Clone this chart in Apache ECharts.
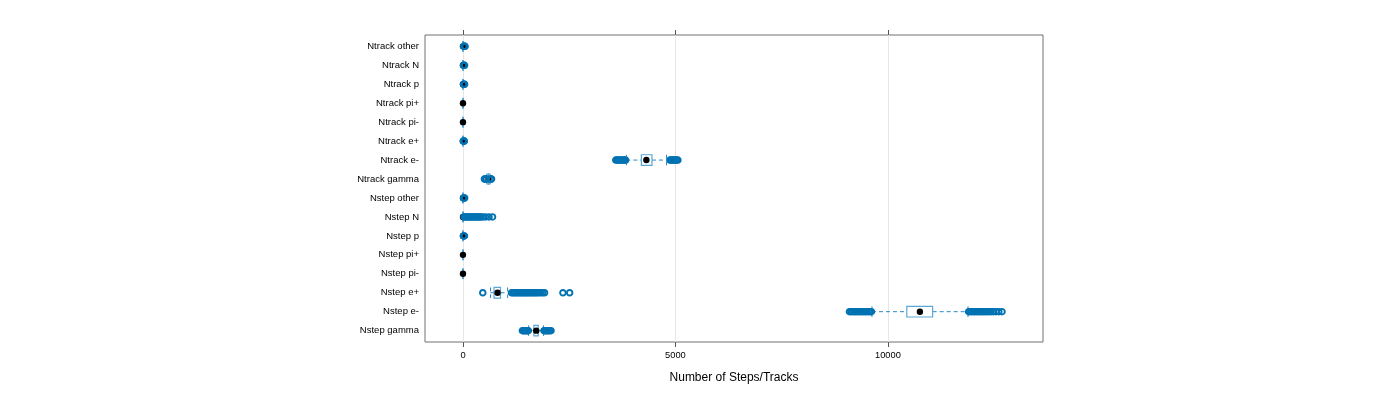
<!DOCTYPE html>
<html>
<head>
<meta charset="utf-8">
<script src="https://cdn.jsdelivr.net/npm/echarts@6/dist/echarts.min.js"></script>
<style>
html,body{margin:0;padding:0;background:#fff;}
#chart{width:1400px;height:400px;}
</style>
</head>
<body>
<div id="chart"></div>
<script>
// Categories from bottom to top
const categories = ['Nstep gamma','Nstep e-','Nstep e+','Nstep pi-','Nstep pi+','Nstep p','Nstep N','Nstep other',
  'Ntrack gamma','Ntrack e-','Ntrack e+','Ntrack pi-','Ntrack pi+','Ntrack p','Ntrack N','Ntrack other'];

// Box statistics (per category, same order)
const lowWhisker  = [1545,  9625,  648, 0, 0, 0, 0, 0, 560, 3845, 0, 0, 0, 0, 0, 0];
const lowerQuart  = [1668, 10445,  730, 0, 0, 0, 0, 0, 588, 4198, 0, 0, 0, 0, 0, 0];
const medians     = [1724, 10753,  813, 0, 0, 0, 0, 0, 600, 4316, 0, 0, 0, 0, 0, 0];
const upperQuart  = [1771, 11053,  883, 0, 0, 0, 0, 0, 612, 4448, 0, 0, 0, 0, 0, 0];
const highWhisker = [1896, 11885, 1050, 0, 0, 0, 0, 0, 640, 4790, 0, 0, 0, 0, 0, 0];

// Outliers per category
const outNstepGamma = [1398,1420,1440,1462,1485,1505,1522,1538, 1905,1925,1948,1970,1992,2015,2040,2072];
const outNstepEm = [9095,9130,9168,9205,9240,9280,9318,9355,9392,9430,9468,9505,9545,9580,9612,
  11900,11935,11970,12008,12045,12080,12118,12155,12192,12230,12268,12305,12345,12385,12430,12480,12540,12610,12685];
const outNstepEp = [466, 1142,1178,1212,1248,1280,1315,1350,1385,1418,1452,1488,1522,1555,1590,1625,1660,1695,1730,1770,1820,1870,1920, 2352,2510];
const outNstepPim = [];
const outNstepPip = [];
const outNstepP = [10,22,35];
const outNstepN = [22,48,75,100,128,155,180,208,235,262,290,318,345,372,400,428, 470,530,612,695];
const outNstepOther = [12,28,40];
const outNtrackGamma = [505,520,535,550, 650,660,672];
const outNtrackEm = [3595,3625,3655,3685,3712,3740,3770,3798,3828, 4868,4895,4920,4948,4975,5000,5030,5058];
const outNtrackEp = [5,14,24,33];
const outNtrackPim = [];
const outNtrackPip = [];
const outNtrackP = [12,25,38];
const outNtrackN = [12,25,38];
const outNtrackOther = [18,35,50];

const outliersByCat = [outNstepGamma,outNstepEm,outNstepEp,outNstepPim,outNstepPip,outNstepP,outNstepN,outNstepOther,
  outNtrackGamma,outNtrackEm,outNtrackEp,outNtrackPim,outNtrackPip,outNtrackP,outNtrackN,outNtrackOther];

const xTicks = [0, 5000, 10000];
const yTicks = [1,2,3,4,5,6,7,8,9,10,11,12,13,14,15,16];

const boxData = categories.map((c, i) => [i + 1, lowWhisker[i], lowerQuart[i], medians[i], upperQuart[i], highWhisker[i]]);
const outData = [];
outliersByCat.forEach((arr, i) => arr.forEach(v => outData.push([v, i + 1])));

const FONT = 'Liberation Sans, Arial, Helvetica, sans-serif';
const boxColor = '#5aa7d6';
const umbColor = '#2f88c4';
const ptColor = '#0072b2';

function renderItem(params, api) {
  const y = api.value(0);
  const lo = api.coord([api.value(1), y]);
  const b1 = api.coord([api.value(2), y]);
  const md = api.coord([api.value(3), y]);
  const b3 = api.coord([api.value(4), y]);
  const hi = api.coord([api.value(5), y]);
  const h = Math.abs(api.size([0, 1])[1]) * 0.28;
  const cy = lo[1];
  const dash = {stroke: umbColor, lineWidth: 1, lineDash: [4, 3], fill: null};
  return {
    type: 'group',
    children: [
      {type: 'line', shape: {x1: lo[0], y1: cy, x2: b1[0], y2: cy}, style: dash},
      {type: 'line', shape: {x1: b3[0], y1: cy, x2: hi[0], y2: cy}, style: dash},
      {type: 'line', shape: {x1: lo[0], y1: cy - h, x2: lo[0], y2: cy + h}, style: dash},
      {type: 'line', shape: {x1: hi[0], y1: cy - h, x2: hi[0], y2: cy + h}, style: dash},
      {type: 'rect', shape: {x: b1[0], y: cy - h, width: b3[0] - b1[0], height: 2 * h},
        style: {fill: 'rgba(0,0,0,0)', stroke: boxColor, lineWidth: 1.2}},
      {type: 'circle', shape: {cx: md[0], cy: cy, r: 3.2}, style: {fill: '#000'}}
    ]
  };
}

const chart = echarts.init(document.getElementById('chart'), null, {renderer: 'canvas'});
chart.setOption({
  animation: false,
  backgroundColor: '#fff',
  grid: {left: 425, right: 357, top: 35, bottom: 58, show: true, borderColor: '#707070', borderWidth: 1, backgroundColor: 'rgba(0,0,0,0)'},
  xAxis: [{
    type: 'value', min: -894, max: 13650, position: 'bottom',
    axisLine: {show: false},
    axisTick: {show: true, customValues: xTicks, length: 5, lineStyle: {color: '#555'}},
    axisLabel: {customValues: xTicks, margin: 9, fontFamily: FONT, fontSize: 9.3, color: '#000',
      formatter: v => String(v)},
    splitLine: {show: true, lineStyle: {color: '#e6e6e6', width: 1}},
    name: 'Number of Steps/Tracks', nameLocation: 'middle', nameGap: 30,
    nameTextStyle: {fontFamily: FONT, fontSize: 12, color: '#000'}
  }, {
    type: 'value', min: -894, max: 13650, position: 'top',
    axisLine: {show: false},
    axisTick: {show: true, customValues: xTicks, length: 5, lineStyle: {color: '#555'}},
    axisLabel: {show: false},
    splitLine: {show: false}
  }],
  yAxis: {
    type: 'value', min: 0.4, max: 16.6,
    axisLine: {show: false},
    axisTick: {show: false, customValues: yTicks},
    axisLabel: {customValues: yTicks, margin: 6, fontFamily: FONT, fontSize: 9.5, color: '#000',
      formatter: v => categories[Math.round(v) - 1] || ''},
    splitLine: {show: false}
  },
  series: [{
    type: 'custom', renderItem: renderItem, data: boxData,
    encode: {x: [1, 2, 3, 4, 5], y: 0}, z: 2, clip: false
  }, {
    type: 'scatter', data: outData, symbol: 'circle', symbolSize: 5.6, z: 3,
    itemStyle: {color: 'rgba(0,0,0,0)', borderColor: ptColor, borderWidth: 1.9, opacity: 1},
    emphasis: {disabled: true}
  }]
});
</script>
</body>
</html>
